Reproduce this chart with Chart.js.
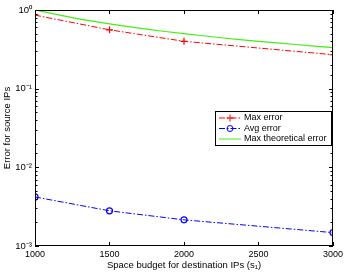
<!DOCTYPE html>
<html>
<head>
<meta charset="utf-8">
<script src="https://cdn.jsdelivr.net/npm/chart.js@4.4.0/dist/chart.umd.min.js"></script>
<style>
  html, body { margin: 0; padding: 0; background: #fff; }
  #wrap { width: 346px; height: 275px; }
</style>
</head>
<body>
<div id="wrap"><canvas id="chart" width="346" height="275"></canvas></div>
<script>
// data
const budgets = [1000, 1500, 2000, 3000];
const maxError = [0.86, 0.56, 0.40, 0.27];
const avgError = [0.0042, 0.0028, 0.00215, 0.00148];
const theoryBudgets = [1000, 1250, 1500, 1750, 2000, 2250, 2500, 2750, 3000];
const theoryError = [1.0, 0.8, 0.667, 0.571, 0.5, 0.444, 0.4, 0.364, 0.333];
const xTicks = [1000, 1500, 2000, 2500, 3000];
const yLabels = {1: "10⁰", 0.1: "10⁻¹", 0.01: "10⁻²", 0.001: "10⁻³"};

const FONT = "'Liberation Sans', Arial, sans-serif";
Chart.defaults.font.family = FONT;
Chart.defaults.font.size = 9.5;
Chart.defaults.color = "#000";

function pts(xs, ys){ return xs.map((x, i) => ({x: x, y: ys[i]})); }

const series = [
  {label: "Max error", color: "#ff0000", dash: [6, 2, 1.5, 2], marker: "cross"},
  {label: "Avg error", color: "#0000ff", dash: [6, 2, 1.5, 2], marker: "circle"},
  {label: "Max theoretical error", color: "#44ee11", dash: [], marker: null}
];

// box, inward ticks and legend, MATLAB style
const boxPlugin = {
  id: "box",
  afterDatasetsDraw(chart){
    const ctx = chart.ctx, a = chart.chartArea;
    const xs = chart.scales.x, ys = chart.scales.y;
    ctx.save();
    ctx.strokeStyle = "#000";
    ctx.lineWidth = 1;
    ctx.strokeRect(a.left + 0.5, a.top + 0.5, a.right - a.left - 1, a.bottom - a.top - 1);
    ctx.beginPath();
    xTicks.forEach(v => {
      const px = Math.round(xs.getPixelForValue(v)) + 0.5;
      ctx.moveTo(px, a.bottom); ctx.lineTo(px, a.bottom - 4);
      ctx.moveTo(px, a.top); ctx.lineTo(px, a.top + 4);
    });
    ys.ticks.forEach(t => {
      const major = yLabels[t.value] !== undefined;
      const len = major ? 4 : 2.5;
      const py = Math.round(ys.getPixelForValue(t.value)) + 0.5;
      ctx.moveTo(a.left, py); ctx.lineTo(a.left + len, py);
      ctx.moveTo(a.right, py); ctx.lineTo(a.right - len, py);
    });
    ctx.stroke();

    // legend
    const lx = 215, ly = 111, lw = 116, lh = 34;
    ctx.fillStyle = "#fff";
    ctx.fillRect(lx, ly, lw, lh);
    ctx.strokeRect(lx + 0.5, ly + 0.5, lw, lh);
    ctx.font = "9px " + FONT;
    ctx.textBaseline = "middle";
    series.forEach((s, i) => {
      const y = ly + 7 + i * 10.5;
      ctx.strokeStyle = s.color;
      ctx.setLineDash(s.dash);
      ctx.beginPath(); ctx.moveTo(lx + 4, y); ctx.lineTo(lx + 26, y); ctx.stroke();
      ctx.setLineDash([]);
      if (s.marker === "cross") {
        ctx.beginPath();
        ctx.moveTo(lx + 15 - 3.5, y); ctx.lineTo(lx + 15 + 3.5, y);
        ctx.moveTo(lx + 15, y - 3.5); ctx.lineTo(lx + 15, y + 3.5);
        ctx.stroke();
      } else if (s.marker === "circle") {
        ctx.beginPath(); ctx.arc(lx + 15, y, 3, 0, Math.PI * 2); ctx.stroke();
      }
      ctx.fillStyle = "#000";
      ctx.fillText(s.label, lx + 29, y);
    });
    ctx.restore();
  }
};

new Chart(document.getElementById("chart"), {
  type: "line",
  data: {
    datasets: [
      {
        label: series[0].label, data: pts(budgets, maxError),
        borderColor: series[0].color, borderWidth: 1, borderDash: series[0].dash,
        pointStyle: "cross", pointRadius: 3.5, pointBorderColor: series[0].color,
        pointBorderWidth: 1.2, fill: false, tension: 0
      },
      {
        label: series[1].label, data: pts(budgets, avgError),
        borderColor: series[1].color, borderWidth: 1, borderDash: series[1].dash,
        pointStyle: "circle", pointRadius: 3, pointBorderColor: series[1].color,
        pointBackgroundColor: "rgba(0,0,0,0)", pointBorderWidth: 1.2, fill: false, tension: 0
      },
      {
        label: series[2].label, data: pts(theoryBudgets, theoryError),
        borderColor: series[2].color, borderWidth: 1.2, pointRadius: 0,
        fill: false, tension: 0.3
      }
    ]
  },
  options: {
    responsive: false,
    animation: false,
    layout: {padding: {left: 0, right: 12, top: 10, bottom: 0}},
    plugins: {legend: {display: false}, tooltip: {enabled: false}},
    scales: {
      x: {
        type: "linear", min: 1000, max: 3000,
        afterFit: s => { s.height = 29; },
        afterBuildTicks: s => { s.ticks = xTicks.map(v => ({value: v})); },
        ticks: {padding: 3, maxRotation: 0, font: {size: 9}, callback: v => String(v)},
        grid: {display: false, drawTicks: false},
        border: {display: false},
        title: {display: true, text: "Space budget for destination IPs (s₁)", padding: {top: 0, bottom: 4}}
      },
      y: {
        type: "logarithmic", min: 0.001, max: 1,
        afterFit: s => { s.width = 35; },
        ticks: {
          padding: 3, autoSkip: false,
          callback: v => yLabels[v] !== undefined ? yLabels[v] : ""
        },
        grid: {display: false, drawTicks: false},
        border: {display: false},
        title: {display: true, text: "Error for source IPs", padding: {top: 2, bottom: 0}}
      }
    }
  },
  plugins: [boxPlugin]
});
</script>
</body>
</html>
